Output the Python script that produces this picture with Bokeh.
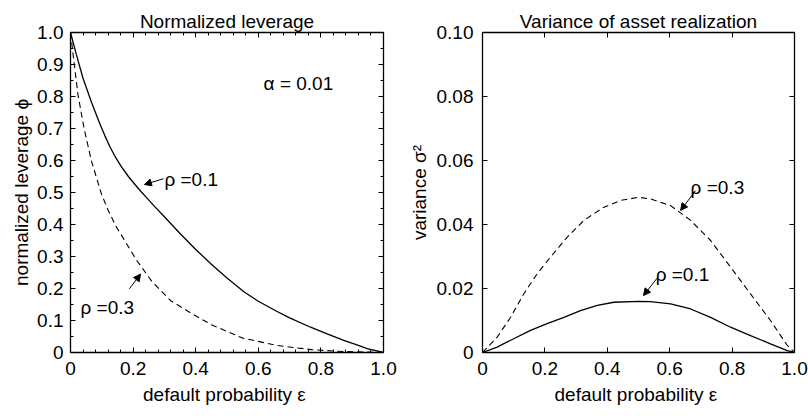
from bokeh.plotting import figure
from bokeh.models import (LinearAxis, FixedTicker, PrintfTickFormatter, Arrow,
                          NormalHead, Label, Range1d)
from bokeh.layouts import row
from bokeh.embed import file_html
from bokeh.resources import INLINE

FONT = "Liberation Sans"

# ---------------- data: left panel (normalized leverage) ----------------
eps_lev_r01 = [0.0, 0.019, 0.04, 0.067, 0.094, 0.11, 0.126, 0.145, 0.163, 0.185,
               0.206, 0.225, 0.243, 0.27, 0.30, 0.35, 0.40, 0.45, 0.50, 0.554, 0.60,
               0.66, 0.70, 0.767, 0.82, 0.873, 0.92, 0.948, 1.0]
lev_r01 = [1.0, 0.93, 0.857, 0.782, 0.714, 0.677, 0.643, 0.608, 0.58, 0.55,
           0.525, 0.503, 0.484, 0.455, 0.424, 0.372, 0.322, 0.276, 0.233, 0.19, 0.16,
           0.128, 0.108, 0.079, 0.058, 0.038, 0.022, 0.012, 0.0]

eps_lev_r03 = [0.0, 0.011, 0.024, 0.043, 0.067, 0.099, 0.12, 0.145, 0.17, 0.21,
               0.26, 0.32, 0.39, 0.45, 0.55, 0.66, 0.77, 0.87, 1.0]
lev_r03 = [1.0, 0.909, 0.805, 0.702, 0.598, 0.495, 0.445, 0.395, 0.355, 0.29,
           0.222, 0.162, 0.12, 0.087, 0.045, 0.022, 0.009, 0.003, 0.0]

# ---------------- data: right panel (variance) ----------------
eps_var_r03 = [0.0, 0.047, 0.09, 0.132, 0.175, 0.218, 0.271, 0.325, 0.389, 0.442,
               0.5, 0.538, 0.603, 0.667, 0.731, 0.795, 0.859, 0.923, 0.977, 1.0]
var_r03 = [0.0, 0.0048, 0.011, 0.0183, 0.0246, 0.0298, 0.036, 0.0413, 0.0454, 0.0475,
           0.0485, 0.048, 0.0459, 0.0413, 0.035, 0.0267, 0.0183, 0.010, 0.0022, 0.0]

eps_var_r01 = [0.0, 0.047, 0.1, 0.154, 0.207, 0.261, 0.314, 0.368, 0.421, 0.5,
               0.538, 0.603, 0.667, 0.731, 0.795, 0.859, 0.923, 0.977, 1.0]
var_r01 = [0.0, 0.0017, 0.0043, 0.0069, 0.009, 0.011, 0.0131, 0.0147, 0.0157, 0.016,
           0.0159, 0.0152, 0.0136, 0.011, 0.0079, 0.0053, 0.0027, 0.0006, 0.0]

# ticks
left_xticks = [0, 0.2, 0.4, 0.6, 0.8, 1.0]
left_xminor = [0, 0.04, 0.08, 0.12, 0.16, 0.2, 0.24, 0.28, 0.32, 0.36, 0.4, 0.44, 0.48,
               0.52, 0.56, 0.6, 0.64, 0.68, 0.72, 0.76, 0.8, 0.84, 0.88, 0.92, 0.96, 1.0]
left_yticks = [0, 0.1, 0.2, 0.3, 0.4, 0.5, 0.6, 0.7, 0.8, 0.9, 1.0]
left_yminor = [0, 0.05, 0.1, 0.15, 0.2, 0.25, 0.3, 0.35, 0.4, 0.45, 0.5, 0.55, 0.6, 0.65,
               0.7, 0.75, 0.8, 0.85, 0.9, 0.95, 1.0]
right_xticks = [0, 0.2, 0.4, 0.6, 0.8, 1.0]
right_yticks = [0, 0.02, 0.04, 0.06, 0.08, 0.10]

# annotations (data units)
panel_titles = ["Normalized leverage", "Variance of asset realization"]
alpha_text = "α = 0.01"
alpha_pos = (0.617, 0.84)
lab_l_r01 = ("ρ =0.1", 0.30, 0.54)
arr_l_r01 = (0.297, 0.543, 0.236, 0.525)
lab_l_r03 = ("ρ =0.3", 0.032, 0.14)
arr_l_r03 = (0.188, 0.199, 0.224, 0.245)
lab_r_r03 = ("ρ =0.3", 0.667, 0.0516)
arr_r_r03 = (0.683, 0.0506, 0.635, 0.0444)
lab_r_r01 = ("ρ =0.1", 0.555, 0.0244)
arr_r_r01 = (0.561, 0.0234, 0.516, 0.0178)

FS = "19px"


def style_axis(ax, labels=True):
    ax.axis_line_color = "black"
    ax.axis_line_width = 1.3
    ax.major_tick_line_color = "black"
    ax.minor_tick_line_color = "black"
    ax.major_tick_in = 5
    ax.major_tick_out = 0
    ax.minor_tick_in = 3
    ax.minor_tick_out = 0
    ax.major_label_text_font = FONT
    ax.major_label_text_font_size = FS
    ax.major_label_text_color = "black"
    ax.axis_label_text_font = FONT
    ax.axis_label_text_font_size = FS
    ax.axis_label_text_font_style = "normal"
    ax.axis_label_text_color = "black"
    if not labels:
        ax.major_label_text_font_size = "0px"
        ax.major_label_standoff = 0
        ax.axis_label = None


def make_fig(width, bl, br, bt, title, ylabel, ymax, xt, xm, yt, ym, xfmt, yfmt):
    p = figure(width=width, height=416, output_backend="svg", toolbar_location=None,
               x_range=Range1d(0, 1), y_range=Range1d(0, ymax),
               min_border_left=bl, min_border_right=br, min_border_top=bt,
               min_border_bottom=64)
    p.xgrid.visible = False
    p.ygrid.visible = False
    p.outline_line_color = None
    p.background_fill_color = "white"
    p.border_fill_color = "white"
    p.title.text = title
    p.title.align = "center"
    p.title.text_font = FONT
    p.title.text_font_size = FS
    p.title.text_font_style = "normal"
    p.title.text_color = "black"
    p.title.standoff = 2

    xa = p.xaxis[0]
    ya = p.yaxis[0]
    xa.ticker = FixedTicker(ticks=xt, minor_ticks=xm)
    ya.ticker = FixedTicker(ticks=yt, minor_ticks=ym)
    xa.formatter = PrintfTickFormatter(format=xfmt)
    ya.formatter = PrintfTickFormatter(format=yfmt)
    xa.major_label_overrides = {0: "0"}
    ya.major_label_overrides = {0: "0"}
    xa.axis_label = "default probability  ε"
    ya.axis_label = ylabel
    style_axis(xa)
    style_axis(ya)
    xa.major_label_standoff = 9
    xa.axis_label_standoff = 6

    top = LinearAxis(ticker=FixedTicker(ticks=xt, minor_ticks=xm))
    right = LinearAxis(ticker=FixedTicker(ticks=yt, minor_ticks=ym))
    style_axis(top, labels=False)
    style_axis(right, labels=False)
    p.add_layout(top, "above")
    p.add_layout(right, "right")
    return p


def add_label(p, txt, x, y):
    p.add_layout(Label(x=x, y=y, text=txt, text_font=FONT, text_font_size=FS,
                       text_baseline="middle", text_align="left", text_color="black"))


def add_arrow(p, a):
    p.add_layout(Arrow(end=NormalHead(size=7, fill_color="black", line_color="black"),
                       x_start=a[0], y_start=a[1], x_end=a[2], y_end=a[3],
                       line_color="black", line_width=1))


p1 = make_fig(400, 70, 17, 30, panel_titles[0], "normalized leverage ϕ", 1.0,
              left_xticks, left_xminor, left_yticks, left_yminor, "%.1f", "%.1f")
p1.yaxis[0].major_label_standoff = 7
p1.yaxis[0].axis_label_standoff = 2
p1.line(eps_lev_r01, lev_r01, line_color="black", line_width=1.3)
p1.line(eps_lev_r03, lev_r03, line_color="black", line_width=1.1, line_dash="6 4")

p2 = make_fig(408, 82, 14, 32, panel_titles[1], "variance σ²", 0.10,
              right_xticks, [], right_yticks, [], "%.1f", "%.2f")
p2.yaxis[0].major_label_standoff = 9
p2.yaxis[0].axis_label_standoff = 4
p2.line(eps_var_r01, var_r01, line_color="black", line_width=1.3)
p2.line(eps_var_r03, var_r03, line_color="black", line_width=1.1, line_dash="6 4")

add_label(p1, alpha_text, *alpha_pos)
add_label(p1, *lab_l_r01)
add_arrow(p1, arr_l_r01)
add_label(p1, *lab_l_r03)
add_arrow(p1, arr_l_r03)
add_label(p2, *lab_r_r03)
add_arrow(p2, arr_r_r03)
add_label(p2, *lab_r_r01)
add_arrow(p2, arr_r_r01)

layout = row(p1, p2)
open("out.html", "w").write(file_html(layout, INLINE))
